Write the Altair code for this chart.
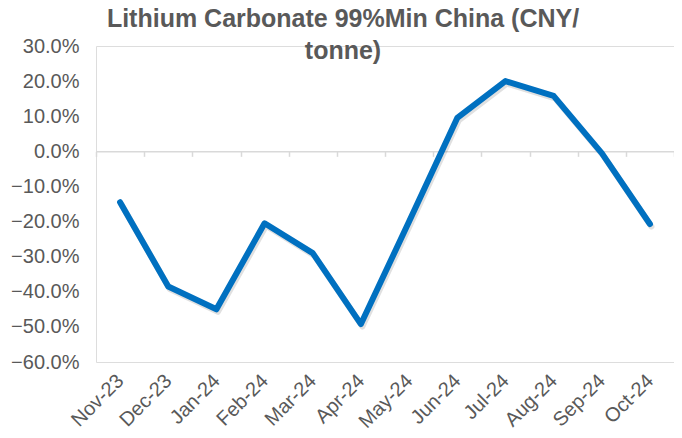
import altair as alt
import pandas as pd

months = ["Nov-23", "Dec-23", "Jan-24", "Feb-24", "Mar-24", "Apr-24",
          "May-24", "Jun-24", "Jul-24", "Aug-24", "Sep-24", "Oct-24"]
values = [-0.145, -0.385, -0.450, -0.205, -0.290, -0.492,
          -0.200, 0.095, 0.200, 0.158, -0.005, -0.207]
y_ticks = [0.3, 0.2, 0.1, 0.0, -0.1, -0.2, -0.3, -0.4, -0.5, -0.6]

df = pd.DataFrame({"month": months, "value": values})

W, H = 578, 316
FONT = "Liberation Sans"
GRAY = "#595959"

x_enc = alt.X(
    "month:N",
    sort=months,
    bandPosition=0.5,
    scale=alt.Scale(type="band", paddingInner=0, paddingOuter=0),
    axis=alt.Axis(
        title=None,
        orient="bottom",
        offset=-(H - H * 30 / 90),
        domain=True, domainColor="#d9d9d9", domainWidth=1.5,
        ticks=True, tickColor="#d9d9d9", tickWidth=1.5, tickSize=5,
        tickBand="extent",
        labelAngle=-45, labelAlign="right", labelBaseline="middle",
        labelPadding=221, labelFontSize=20, labelColor=GRAY, labelFont=FONT,
        labelOverlap=False, labelFlush=False,
    ),
)
y_enc = alt.Y(
    "value:Q",
    scale=alt.Scale(domain=[-0.6, 0.3], nice=False, zero=False),
    axis=alt.Axis(
        title=None, values=y_ticks, format=".1%", grid=False,
        domain=False, ticks=False, labelPadding=17,
        labelFontSize=20, labelColor=GRAY, labelFont=FONT,
    ),
)

shadow = alt.Chart(df).mark_line(
    color="#000000", opacity=0.12, strokeWidth=6, strokeCap="round",
    strokeJoin="round", xOffset=1.5, yOffset=2.5,
).encode(x=x_enc, y=y_enc)

line = alt.Chart(df).mark_line(
    color="#0070C0", strokeWidth=6, strokeCap="round", strokeJoin="round",
).encode(x=x_enc, y=y_enc)

chart = alt.layer(shadow, line).properties(
    width=W, height=H,
    title=alt.TitleParams(
        text=["Lithium Carbonate 99%Min China (CNY/", "tonne)"],
        fontSize=25, fontWeight="bold", color=GRAY, font=FONT,
        anchor="middle", dx=-42, dy=28, offset=0, lineHeight=32,
    ),
    autosize=alt.AutoSizeParams(type="none"),
    padding={"left": 88, "top": 38, "right": 0, "bottom": 74},
).configure_view(strokeWidth=0).configure(background="white")

chart.save("out.html", embed_options={"renderer": "svg", "actions": False})
